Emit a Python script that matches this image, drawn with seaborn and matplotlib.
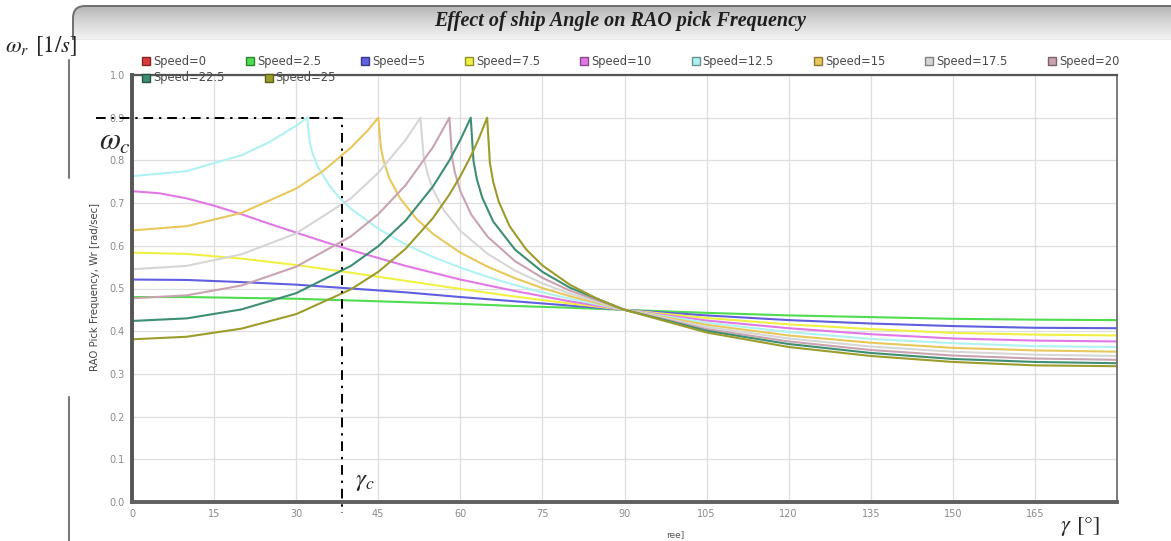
import matplotlib
matplotlib.use("Agg")
import numpy as np
import pandas as pd
import matplotlib.pyplot as plt
import matplotlib.colors as mcolors
from matplotlib.lines import Line2D
from matplotlib.patches import FancyBboxPatch
import seaborn as sns

W, H = 1171, 541

# RAO peak frequency, per ship speed (angle in degrees)
speed_labels = ['0', '2.5', '5', '7.5', '10', '12.5', '15', '17.5', '20', '22.5', '25']
speed_colors = ['#dc3a3a', '#4fdc4f', '#5f5fe0', '#f0f044', '#e278e6', '#b0f2f2',
                '#e8c85c', '#d6d6d6', '#c9a4b0', '#3e8e72', '#9c9c2c']

angle_low = [0, 10, 20, 30, 40, 50, 60, 70, 80, 90, 105, 120, 135, 150, 165, 180]
wr_s0 = []
angle_s0 = []
wr_s2_5 = [0.480, 0.480, 0.478, 0.476, 0.472, 0.468, 0.464, 0.459, 0.455, 0.450,
           0.443, 0.437, 0.433, 0.429, 0.427, 0.426]
wr_s5 = [0.521, 0.520, 0.515, 0.509, 0.500, 0.491, 0.480, 0.470, 0.460, 0.450,
         0.437, 0.426, 0.418, 0.412, 0.408, 0.407]
wr_s7_5 = [0.584, 0.581, 0.570, 0.555, 0.537, 0.518, 0.499, 0.481, 0.465, 0.450,
           0.431, 0.416, 0.405, 0.396, 0.392, 0.390]

angle_s10 = [0, 5, 10, 15, 20, 25, 30, 35, 40, 50, 60, 70, 80, 90, 105, 120, 135, 150, 165, 180]
wr_s10 = [0.728, 0.723, 0.711, 0.694, 0.674, 0.652, 0.631, 0.610, 0.590, 0.553,
          0.521, 0.494, 0.470, 0.450, 0.425, 0.407, 0.393, 0.383, 0.378, 0.376]

angle_s12_5 = [0, 10, 20, 25, 30, 32, 32.5, 33, 34, 36, 38, 40, 45, 50, 55, 60, 65, 70, 75, 80,
               90, 105, 120, 135, 150, 165, 180]
wr_s12_5 = [0.763, 0.775, 0.812, 0.842, 0.881, 0.900, 0.841, 0.816, 0.784, 0.742, 0.711,
            0.687, 0.640, 0.603, 0.574, 0.549, 0.527, 0.508, 0.491, 0.476, 0.450, 0.420,
            0.398, 0.382, 0.372, 0.365, 0.363]

angle_s15 = [0, 10, 20, 30, 35, 40, 43, 45, 45.5, 46, 47, 49, 52, 55, 60, 65, 70, 75, 80,
             90, 105, 120, 135, 150, 165, 180]
wr_s15 = [0.636, 0.646, 0.677, 0.734, 0.776, 0.830, 0.869, 0.900, 0.828, 0.798, 0.759,
          0.711, 0.663, 0.628, 0.584, 0.551, 0.524, 0.501, 0.482, 0.450, 0.415, 0.390,
          0.373, 0.361, 0.355, 0.352]

angle_s17_5 = [0, 10, 20, 30, 40, 45, 50, 52.7, 53.3, 54, 55, 57, 60, 65, 70, 75, 80,
               90, 105, 120, 135, 150, 165, 180]
wr_s17_5 = [0.545, 0.553, 0.580, 0.629, 0.711, 0.771, 0.848, 0.900, 0.808, 0.769, 0.732,
            0.683, 0.635, 0.581, 0.542, 0.512, 0.488, 0.450, 0.410, 0.383, 0.364, 0.352,
            0.345, 0.342]

angle_s20 = [0, 10, 20, 30, 40, 45, 50, 55, 58, 58.5, 59, 60, 62, 65, 70, 75, 80,
             90, 105, 120, 135, 150, 165, 180]
wr_s20 = [0.477, 0.484, 0.507, 0.551, 0.622, 0.674, 0.742, 0.831, 0.900, 0.806, 0.772,
          0.728, 0.673, 0.621, 0.564, 0.525, 0.495, 0.450, 0.405, 0.376, 0.356, 0.343,
          0.336, 0.333]

angle_s22_5 = [0, 10, 20, 30, 40, 45, 50, 55, 58, 60, 61.9, 62.4, 63, 64, 66, 70, 75, 80,
               90, 105, 120, 135, 150, 165, 180]
wr_s22_5 = [0.424, 0.430, 0.451, 0.489, 0.553, 0.599, 0.659, 0.739, 0.800, 0.848, 0.900,
            0.799, 0.757, 0.713, 0.657, 0.591, 0.539, 0.502, 0.450, 0.401, 0.370, 0.349,
            0.335, 0.328, 0.325]

angle_s25 = [0, 10, 20, 30, 40, 45, 50, 55, 58, 60, 62, 63.5, 64.9, 65.4, 66, 67, 69, 72,
             75, 80, 85, 90, 105, 120, 135, 150, 165, 180]
wr_s25 = [0.381, 0.387, 0.406, 0.440, 0.498, 0.539, 0.593, 0.665, 0.720, 0.763, 0.812,
          0.855, 0.900, 0.794, 0.750, 0.704, 0.646, 0.592, 0.554, 0.509, 0.476, 0.450,
          0.397, 0.363, 0.342, 0.328, 0.320, 0.318]

x_ticks = [0, 15, 30, 45, 60, 75, 90, 105, 120, 135, 150, 165]
y_ticks = [0.0, 0.1, 0.2, 0.3, 0.4, 0.5, 0.6, 0.7, 0.8, 0.9, 1.0]

# critical point marked by hand on the figure
gamma_c = 38.4
omega_c = 0.9


def fx(px):
    return px / W


def fy(py):
    return 1 - py / H


def build_frame():
    series = {
        '0': (angle_s0, wr_s0),
        '2.5': (angle_low, wr_s2_5),
        '5': (angle_low, wr_s5),
        '7.5': (angle_low, wr_s7_5),
        '10': (angle_s10, wr_s10),
        '12.5': (angle_s12_5, wr_s12_5),
        '15': (angle_s15, wr_s15),
        '17.5': (angle_s17_5, wr_s17_5),
        '20': (angle_s20, wr_s20),
        '22.5': (angle_s22_5, wr_s22_5),
        '25': (angle_s25, wr_s25),
    }
    rows = []
    for speed, (angles, values) in series.items():
        for a, w in zip(angles, values):
            rows.append((speed, a, w))
    return pd.DataFrame(rows, columns=['speed', 'angle', 'wr'])


def draw_title_bar(fig):
    bar = fig.add_axes([fx(72), fy(40), (W - 72) / W, 35 / H])
    bar.set_xlim(0, W - 72)
    bar.set_ylim(0, 35)
    bar.axis('off')
    cmap = mcolors.LinearSegmentedColormap.from_list('bar', ['#f4f4f4', '#d8d8d8', '#b4b4b4'])
    grad = np.linspace(0, 1, 64).reshape(-1, 1)
    im = bar.imshow(grad, cmap=cmap, aspect='auto', origin='lower', extent=[0, W - 72, 0, 35])
    edge = FancyBboxPatch((1, -20), W, 54, boxstyle='round,pad=0,rounding_size=12',
                          facecolor='none', edgecolor='#6f6f6f', lw=1.4)
    bar.add_patch(edge)
    im.set_clip_path(edge)
    bar.plot([0, W], [0.5, 0.5], color='#c4c4c4', lw=1)
    fig.text(fx(620), fy(21), 'Effect of ship Angle on RAO pick Frequency',
             family='Liberation Serif', weight='bold', style='italic',
             fontsize=14.5, ha='center', va='center', color='#1e1e1e')


def draw_legend(fig):
    renderer = fig.canvas.get_renderer()
    rows = [(speed_labels[:9], speed_colors[:9], 61), (speed_labels[9:], speed_colors[9:], 78)]
    for labels, cols, ypx in rows:
        x = 146
        for lab, col in zip(labels, cols):
            edge = tuple(c * 0.6 for c in mcolors.to_rgb(col))
            fig.add_artist(Line2D([fx(x)], [fy(ypx)], marker='s', ms=6, mfc=col, mec=edge,
                                  mew=1, transform=fig.transFigure))
            t = fig.text(fx(x + 7), fy(ypx), f'Speed={lab}', fontsize=8.3, va='center',
                         color='#4a4a4a')
            bb = t.get_window_extent(renderer=renderer)
            x = bb.x1 + 44


def main():
    sns.set_style('white')
    plt.rcParams['font.family'] = ['DejaVu Sans']
    plt.rcParams['mathtext.fontset'] = 'stix'

    fig = plt.figure(figsize=(W / 100, H / 100), dpi=100)
    ax = fig.add_axes([fx(132), fy(502), (1117 - 132) / W, (502 - 75) / H])

    df = build_frame()
    present = [s for s in speed_labels if s in set(df['speed'])]
    palette = dict(zip(speed_labels, speed_colors))
    sns.lineplot(data=df, x='angle', y='wr', hue='speed', hue_order=present,
                 palette=palette, estimator=None, sort=True, lw=1.5, legend=False, ax=ax)

    ax.set_xlim(0, 180)
    ax.set_ylim(0, 1.0)
    ax.set_xticks(x_ticks)
    ax.set_yticks(y_ticks)
    ax.set_yticklabels([f'{v:.1f}' for v in y_ticks])
    ax.grid(True, color='#dedede', lw=0.9)
    ax.set_axisbelow(True)
    ax.tick_params(axis='both', labelsize=7, labelcolor='#8a8a8a', color='#555555',
                   length=3, width=1, direction='out', pad=2)
    ax.set_xlabel('')
    ax.set_ylabel('')
    for side, lw, col in [('left', 2.8, '#555555'), ('bottom', 2.8, '#606060'),
                          ('top', 1.6, '#555555'), ('right', 1.3, '#707070')]:
        ax.spines[side].set_visible(True)
        ax.spines[side].set_linewidth(lw)
        ax.spines[side].set_color(col)

    # hand-drawn critical lines
    ax.plot([-6.5, gamma_c, gamma_c], [omega_c, omega_c, -0.026], color='black', lw=1.4,
            ls=(0, (5, 3, 1.2, 3)), clip_on=False, zorder=5)

    draw_title_bar(fig)
    draw_legend(fig)

    fig.text(fx(95), fy(287), 'RAO Pick Frequency, Wr [rad/sec]', rotation=90,
             fontsize=7.3, color='#444444', ha='center', va='center')
    fig.text(fx(675), fy(535), 'ree]', fontsize=6.5, color='#555555', ha='center', va='center')

    fig.add_artist(Line2D([fx(69), fx(69)], [fy(60), fy(178)], color='#7a7a7a', lw=1.5))
    fig.add_artist(Line2D([fx(69), fx(69)], [fy(397), fy(541)], color='#7a7a7a', lw=1.5))

    fig.text(fx(5), fy(46), r'$\omega_r$ $[1/s]$', fontsize=16.5, ha='left', va='center')
    fig.text(fx(99), fy(141), r'$\omega_c$', fontsize=22, ha='left', va='center')
    fig.text(fx(355), fy(481), r'$\gamma_c$', fontsize=18, ha='left', va='center')
    fig.text(fx(1060), fy(526), r'$\gamma$ $[\degree]$', fontsize=16, ha='left', va='center')

    fig.savefig('out.png', dpi=100)


if __name__ == '__main__':
    main()
